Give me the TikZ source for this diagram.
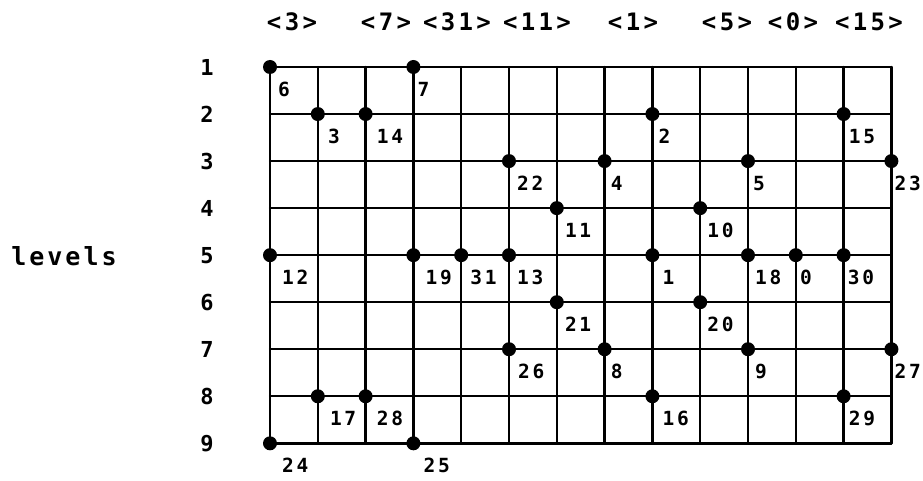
\documentclass[tikz,border=0pt]{standalone}
\usepackage{fontspec}
\newfontfamily\cellfont[LetterSpace=14]{DejaVu Sans Mono Bold}
\newfontfamily\topfont[LetterSpace=14]{DejaVu Sans Mono Bold}
\newfontfamily\rowfont{DejaVu Sans Mono Bold}
\newfontfamily\levfont[LetterSpace=12]{DejaVu Sans Mono Bold}
\tikzset{
  gridline/.style={line width=2.4pt, line cap=round},
  dotmark/.style={circle, fill=black, inner sep=0pt, minimum size=14pt},
  celllab/.style={anchor=west, inner sep=0pt, font=\cellfont\fontsize{19.5}{19.5}\selectfont},
  toplab/.style={inner sep=0pt, font=\topfont\fontsize{24}{24}\selectfont},
  rowlab/.style={inner sep=0pt, font=\rowfont\fontsize{22}{22}\selectfont},
  levlab/.style={inner sep=0pt, font=\levfont\fontsize{25}{25}\selectfont}
}
\begin{document}
\begin{tikzpicture}[x=1pt,y=-1pt]
\useasboundingbox (0,0) rectangle (923,481);
\foreach \c in {0,...,13}{
  \foreach \r in {1,...,9}{
    \coordinate (g\c-\r) at ({270+47.8*\c},{67+47.04*(\r-1)});
  }
}
% grid
\foreach \r in {1,...,9}{
  \draw[gridline] (g0-\r) -- (g13-\r);
}
\foreach \c in {0,...,13}{
  \draw[gridline] (g\c-1) -- (g\c-9);
}
% row labels
\foreach \r in {1,...,9}{
  \node[rowlab] (row\r) at ([xshift=-63pt]g0-\r) {\r};
}
\node[levlab] (lev) at (64,256) {levels};
% top labels
\node[toplab] (t3) at (292,22) {<3>};
\node[toplab] (t7) at (386,22) {<7>};
\node[toplab] (t31) at (457,22) {<31>};
\node[toplab] (t11) at (537,22) {<11>};
\node[toplab] (t1) at (633,22) {<1>};
\node[toplab] (t5) at (727,22) {<5>};
\node[toplab] (t0) at (793,22) {<0>};
\node[toplab] (t15) at (869,22) {<15>};
% dots and labels
\foreach \lab/\c/\r/\dx in {6/0/1/8, 7/3/1/4,
  3/1/2/10, 14/2/2/11, 2/8/2/6, 15/12/2/5,
  22/5/3/8, 4/7/3/6, 5/10/3/5, 23/13/3/3,
  11/6/4/8, 10/9/4/7,
  12/0/5/12, 19/3/5/12, 31/4/5/9, 13/5/5/8, 1/8/5/10, 18/10/5/7, 0/11/5/4, 30/12/5/4,
  21/6/6/8, 20/9/6/7,
  26/5/7/9, 8/7/7/6, 9/10/7/7, 27/13/7/3,
  17/1/8/12, 28/2/8/11, 16/8/8/10, 29/12/8/5,
  24/0/9/12, 25/3/9/10}{
  \node[dotmark] (d\lab) at (g\c-\r) {};
  \node[celllab] (l\lab) at ([xshift=\dx pt, yshift=-22pt]g\c-\r) {\lab};
}
\end{tikzpicture}
\end{document}
